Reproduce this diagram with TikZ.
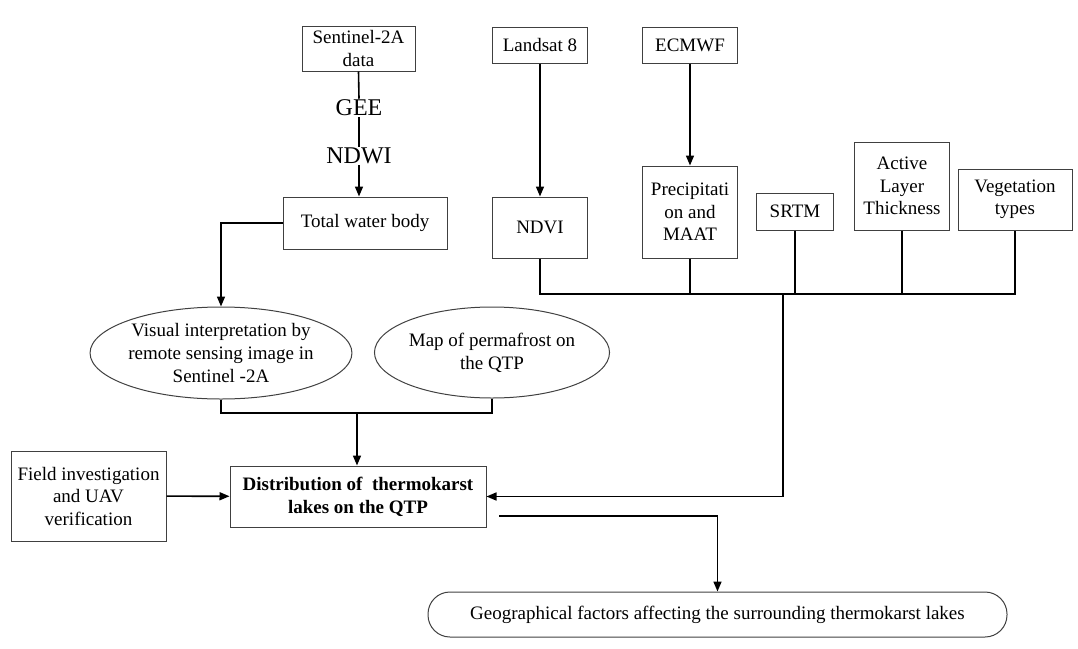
\documentclass[tikz,border=0pt]{standalone}
\usepackage{fontspec}
\setmainfont{Liberation Serif}
\usetikzlibrary{arrows.meta,shapes.geometric}
\begin{document}
\begin{tikzpicture}[x=1pt,y=-1pt,
    box/.style={draw=black!75,line width=1pt,rectangle,inner sep=0pt,align=center,
      font=\fontsize{19}{22.5}\selectfont},
    oval/.style={draw=black!75,line width=1pt,ellipse,inner sep=0pt,align=center,
      font=\fontsize{19}{23}\selectfont},
    lbl/.style={inner sep=1pt,font=\fontsize{24}{28}\selectfont},
    link/.style={line width=1.6pt},
    arr/.style={link,-{Triangle[length=10pt,width=8pt]}}]
  \useasboundingbox (0,0) rectangle (1078,648);

  \node[box,minimum width=113pt,minimum height=45pt] (sent) at (358.5,48.5) {Sentinel-2A\\data};
  \node[lbl] (gee) at (359,108) {GEE};
  \node[lbl] (ndwi) at (359,156) {NDWI};
  \node[box,minimum width=164pt,minimum height=52pt] (water) at (365,223) {Total water body};

  \node[box,minimum width=95pt,minimum height=36pt] (landsat) at (540,45) {Landsat 8};
  \node[box,minimum width=95pt,minimum height=36pt] (ecmwf) at (690,45) {ECMWF};
  \node[box,minimum width=95pt,minimum height=61pt] (ndvi) at (540,227.5) {NDVI};
  \node[box,minimum width=95pt,minimum height=92pt] (precip) at (690,212) {Precipitati\\on and\\MAAT};
  \node[box,minimum width=77pt,minimum height=37pt] (srtm) at (795,211.5) {SRTM};
  \node[box,minimum width=95pt,minimum height=88pt] (alt) at (902,186) {Active\\Layer\\Thickness};
  \node[box,minimum width=114pt,minimum height=61pt] (veg) at (1015,199.5) {Vegetation\\types};

  \node[oval,minimum width=254pt,minimum height=92pt] (vis) at (221,353)
    {Visual interpretation by\\remote sensing image in\\Sentinel -2A};
  \node[oval,minimum width=232pt,minimum height=91pt] (map) at (492,352.5)
    {Map of permafrost on\\the QTP};

  \node[box,minimum width=256pt,minimum height=61pt,font=\fontsize{19}{23}\selectfont\bfseries]
    (dist) at (358,496.5) {Distribution of~ thermokarst\\lakes on the QTP};
  \node[box,minimum width=155pt,minimum height=90pt] (field) at (88.5,496)
    {Field investigation\\and UAV\\verification};
  \node[box,minimum width=579pt,minimum height=45pt,rounded corners=22pt] (geo) at (717.5,614.5)
    {Geographical factors affecting the surrounding thermokarst lakes};

  \coordinate (bus) at (783,294);
  \coordinate (join) at (357,413);
  \coordinate (out) at (499,516);

  \draw[link] (sent.south) -- (gee.north);
  \draw[link] (gee.south) -- (ndwi.north);
  \draw[arr] (ndwi.south) -- (ndwi.south |- water.north);
  \draw[arr] (water.west) -| (vis.north);

  \draw[arr] (landsat.south) -- (ndvi.north);
  \draw[arr] (ecmwf.south) -- (precip.north);
  \draw[link] (ndvi.south) |- (bus -| veg.south) -- (veg.south);
  \draw[link] (precip.south) -- (precip.south |- bus);
  \draw[link] (srtm.south) -- (srtm.south |- bus);
  \draw[link] (alt.south) -- (alt.south |- bus);
  \draw[arr] (bus) |- (dist.east);

  \draw[link] (vis.south) |- (join) -| (map.south);
  \draw[arr] (join) -- (join |- dist.north);
  \draw[arr] (field) -- (dist);
  \draw[arr] (out) -| (geo.north);
\end{tikzpicture}
\end{document}
